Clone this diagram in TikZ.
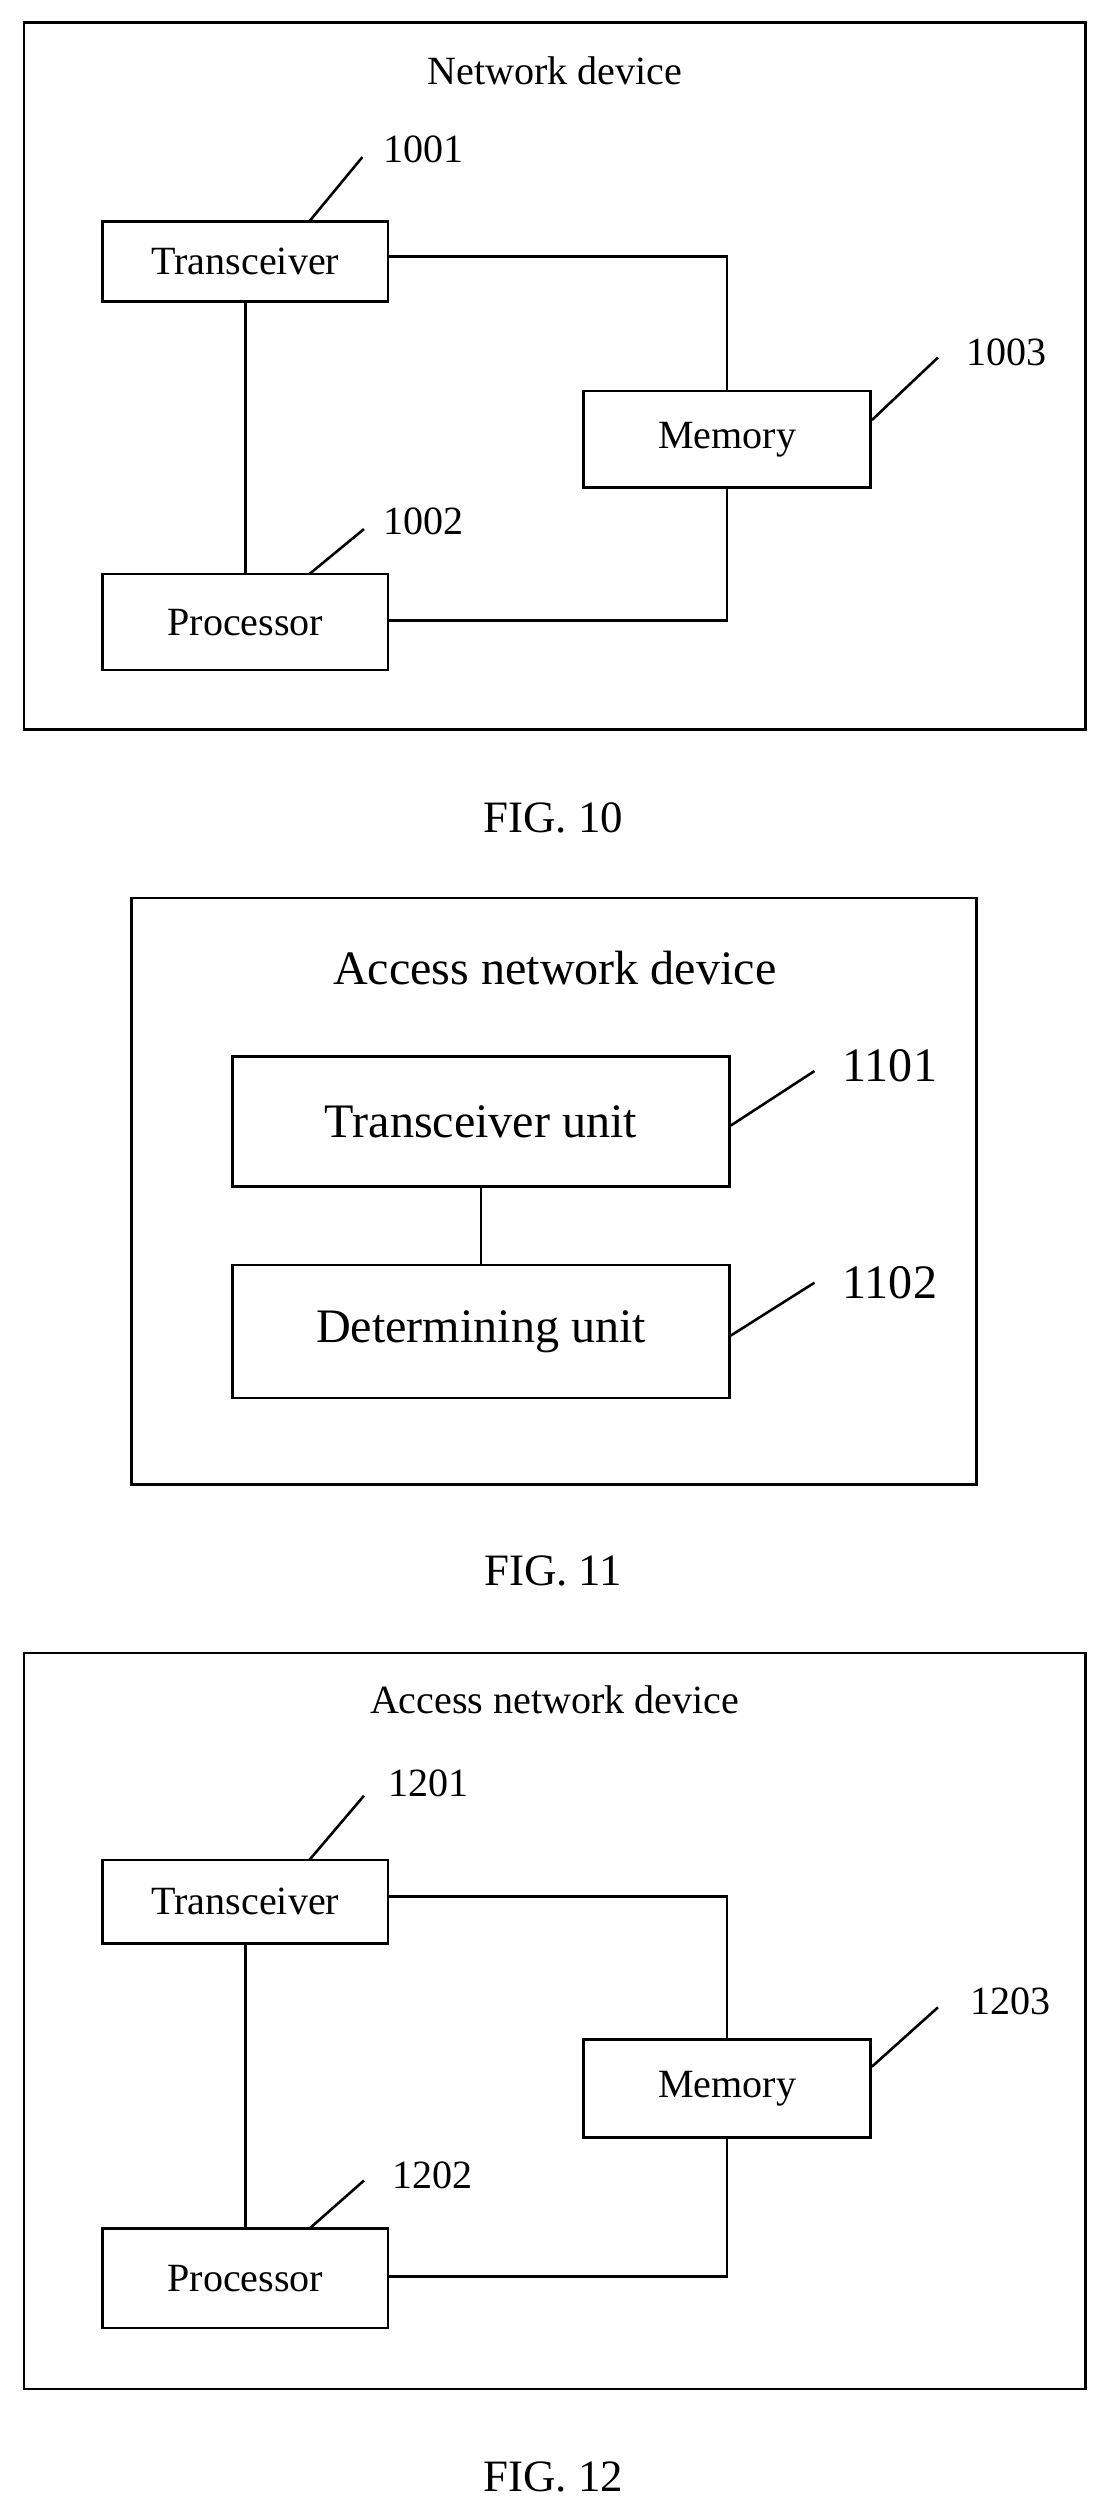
\documentclass[tikz,border=0pt]{standalone}
\usepackage{fontspec}
\setmainfont{Liberation Serif}
\begin{document}
\begin{tikzpicture}[x=1pt,y=-1pt,line width=1.6pt,
 bx/.style={draw,minimum width=#1,inner sep=0pt},
 lbl/.style={font=\fontsize{25}{28}\selectfont},
 big/.style={font=\fontsize{30}{34}\selectfont},
 fig/.style={font=\fontsize{28}{32}\selectfont}]
\useasboundingbox (0,0) rectangle (690,1568);
% FIG 10
\draw (15,14) rectangle (677,455);
\node[lbl] (t10) at (346,44) {Network device};
\node[lbl,draw,minimum width=178pt,minimum height=50pt] (tr1) at (153,163) {Transceiver};
\node[lbl,draw,minimum width=178pt,minimum height=60pt] (pr1) at (153,388) {Processor};
\node[lbl,draw,minimum width=179pt,minimum height=60pt] (me1) at (453.5,274) {Memory};
\draw (tr1.east|-0,160) -| (me1.north);
\draw (me1.south) |- (pr1.east|-0,387);
\draw (tr1.south) -- (pr1.north);
\coordinate (a1) at (226,98); \coordinate (a2) at (227,330); \coordinate (a3) at (585,223);
\draw (193,138) -- (a1); \draw (193,358) -- (a2); \draw (me1.east|-0,262) -- (a3);
\node[lbl] (n1) at (264,93) {1001};
\node[lbl] (n2) at (264,325) {1002};
\node[lbl] (n3) at (628,220) {1003};
\node[fig] (f10) at (345,510) {FIG. 10};
% FIG 11
\draw (82,560) rectangle (609,926);
\node[big] (t11) at (346,604) {Access network device};
\node[big,draw,minimum width=310pt,minimum height=81pt] (tu) at (300,699.5) {Transceiver unit};
\node[big,draw,minimum width=310pt,minimum height=83pt] (du) at (300,830.5) {Determining unit};
\draw (tu) -- (du);
\coordinate (b1) at (508,668); \coordinate (b2) at (508,800);
\draw (tu.east|-0,702) -- (b1); \draw (du.east|-0,833) -- (b2);
\node[big] (m1) at (555,665) {1101};
\node[big] (m2) at (555,800) {1102};
\node[fig] (f11) at (345,980) {FIG. 11};
% FIG 12
\draw (15,1031) rectangle (677,1490);
\node[lbl] (t12) at (346,1060) {Access network device};
\node[lbl,draw,minimum width=178pt,minimum height=52pt] (tr2) at (153,1186) {Transceiver};
\node[lbl,draw,minimum width=178pt,minimum height=62pt] (pr2) at (153,1421) {Processor};
\node[lbl,draw,minimum width=179pt,minimum height=61pt] (me2) at (453.5,1302.5) {Memory};
\draw (tr2.east|-0,1183) -| (me2.north);
\draw (me2.south) |- (pr2.east|-0,1420);
\draw (tr2.south) -- (pr2.north);
\coordinate (c1) at (227,1120); \coordinate (c2) at (227,1360); \coordinate (c3) at (585,1252);
\draw (193,1160) -- (c1); \draw (193,1390) -- (c2); \draw (me2.east|-0,1289) -- (c3);
\node[lbl] (p1) at (267,1112) {1201};
\node[lbl] (p2) at (270,1357) {1202};
\node[lbl] (p3) at (630,1248) {1203};
\node[fig] (f12) at (345,1545) {FIG. 12};
\end{tikzpicture}
\end{document}
